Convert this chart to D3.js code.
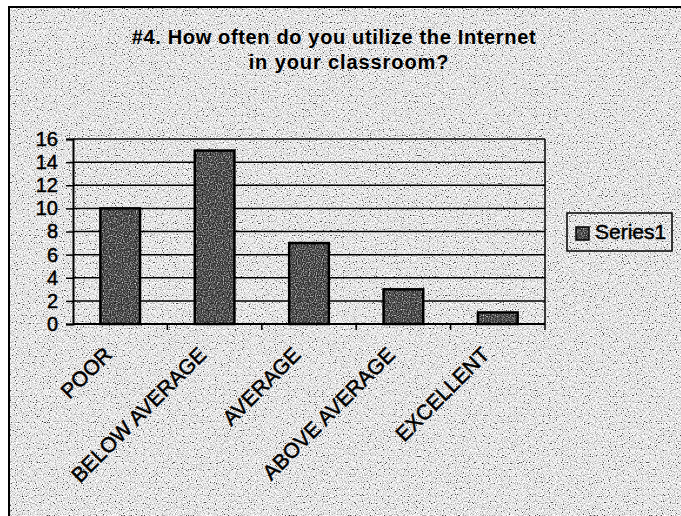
<!DOCTYPE html>
<html lang="en">
<head>
<meta charset="utf-8">
<title>#4. How often do you utilize the Internet in your classroom?</title>
<script src="https://cdn.jsdelivr.net/npm/d3@7"></script>
<style>
  body { margin: 0; background: #fff; }
  text { font-family: "Liberation Sans", Arial, sans-serif; fill: #000; }
  .thick { stroke: #000; stroke-width: 0.5px; }
</style>
</head>
<body>
<script>
// data
var categories = ["POOR", "BELOW AVERAGE", "AVERAGE", "ABOVE AVERAGE", "EXCELLENT"];
var values = [10, 15, 7, 3, 1];
var yTicks = [0, 2, 4, 6, 8, 10, 12, 14, 16];
var titleLines = ["#4. How often do you utilize the Internet", "in your classroom?"];
var seriesName = "Series1";

var w = 681, h = 516;
var plot = { left: 73, right: 545, top: 139, bottom: 324 };

var svg = d3.select("body").append("svg")
  .attr("width", w)
  .attr("height", h);

var defs = svg.append("defs");

// speckled scan texture
function stipple(id, table, seed, clip) {
  var f = defs.append("filter").attr("id", id)
    .attr("x", 0).attr("y", 0).attr("width", 1).attr("height", 1)
    .attr("color-interpolation-filters", "sRGB");
  f.append("feTurbulence").attr("type", "fractalNoise")
    .attr("baseFrequency", 0.85).attr("numOctaves", 1).attr("seed", seed)
    .attr("result", "n");
  f.append("feColorMatrix").attr("in", "n").attr("type", "matrix")
    .attr("values", "1 0 0 0 0  1 0 0 0 0  1 0 0 0 0  0 0 0 0 1")
    .attr("result", "g");
  var ct = f.append("feComponentTransfer").attr("in", "g").attr("result", "t");
  ["feFuncR", "feFuncG", "feFuncB"].forEach(function(fn) {
    ct.append(fn).attr("type", "discrete").attr("tableValues", table);
  });
  if (clip) {
    f.append("feComposite").attr("in", "t").attr("in2", "SourceAlpha").attr("operator", "in");
  }
}
stipple("bgNoise", "0 0.1 0.3 0.7 0.86 0.93 1 1 1 1", 7, false);
stipple("barNoise", "0 0 0.1 0.18 0.25 0.38 0.55 0.7 0.9 1", 3, true);

// page background
svg.append("rect")
  .attr("x", 9).attr("y", 7)
  .attr("width", w - 9).attr("height", h - 7)
  .attr("fill", "#ccc")
  .attr("filter", "url(#bgNoise)");

// chart frame (only left and top edges are inside the scan)
svg.append("path")
  .attr("d", "M9," + h + "V7H" + w)
  .attr("fill", "none")
  .attr("stroke", "#000")
  .attr("stroke-width", 2);

// title
svg.append("text")
  .attr("x", 334).attr("y", 44)
  .attr("text-anchor", "middle")
  .attr("font-size", "20px").attr("font-weight", "bold")
  .attr("letter-spacing", "0.65px")
  .text(titleLines[0]);
svg.append("text")
  .attr("x", 349).attr("y", 69)
  .attr("text-anchor", "middle")
  .attr("font-size", "20px").attr("font-weight", "bold")
  .attr("letter-spacing", "0.9px")
  .text(titleLines[1]);

var xScale = d3.scaleBand()
  .domain(categories)
  .range([plot.left, plot.right])
  .paddingInner(0.58)
  .paddingOuter(0.29);

var xBand = d3.scaleBand()
  .domain(categories)
  .range([plot.left, plot.right]);

var yScale = d3.scaleLinear()
  .domain([0, 16])
  .range([plot.bottom, plot.top]);

// gridlines
svg.append("g").selectAll("line")
  .data(yTicks.slice(1))
  .enter().append("line")
  .attr("x1", plot.left).attr("x2", plot.right)
  .attr("y1", function(d) { return yScale(d); })
  .attr("y2", function(d) { return yScale(d); })
  .attr("stroke", "#000").attr("stroke-width", 1.5);

// right edge of plot area
svg.append("line")
  .attr("x1", plot.right).attr("x2", plot.right)
  .attr("y1", plot.top).attr("y2", plot.bottom)
  .attr("stroke", "#000").attr("stroke-width", 1.5);

// bars
var bars = svg.append("g");
bars.selectAll("rect.fill")
  .data(values)
  .enter().append("rect")
  .attr("class", "fill")
  .attr("x", function(d, i) { return xScale(categories[i]); })
  .attr("y", function(d) { return yScale(d); })
  .attr("width", xScale.bandwidth())
  .attr("height", function(d) { return plot.bottom - yScale(d); })
  .attr("fill", "#000")
  .attr("filter", "url(#barNoise)");
bars.selectAll("rect.edge")
  .data(values)
  .enter().append("rect")
  .attr("class", "edge")
  .attr("x", function(d, i) { return xScale(categories[i]); })
  .attr("y", function(d) { return yScale(d); })
  .attr("width", xScale.bandwidth())
  .attr("height", function(d) { return plot.bottom - yScale(d); })
  .attr("fill", "none")
  .attr("stroke", "#000")
  .attr("stroke-width", 2.5);

// y axis
var yAxis = svg.append("g")
  .attr("transform", "translate(" + plot.left + ",0)")
  .call(d3.axisLeft(yScale).tickValues(yTicks).tickSize(7).tickPadding(8));
yAxis.select(".domain").attr("stroke-width", 2);
yAxis.selectAll(".tick line").attr("stroke-width", 1.5);
yAxis.selectAll(".tick text")
  .attr("class", "thick")
  .attr("font-family", "Liberation Sans, Arial, sans-serif")
  .attr("font-size", "20px")
  .attr("fill", "#000");

// x axis with ticks between categories
var xAxis = svg.append("g")
  .attr("transform", "translate(0," + plot.bottom + ")");
xAxis.append("line")
  .attr("x1", plot.left).attr("x2", plot.right)
  .attr("stroke", "#000").attr("stroke-width", 2);
xAxis.selectAll("line.tk")
  .data(categories.slice(1).concat(["end"]))
  .enter().append("line")
  .attr("class", "tk")
  .attr("x1", function(d, i) { return plot.left + (i + 1) * xBand.bandwidth(); })
  .attr("x2", function(d, i) { return plot.left + (i + 1) * xBand.bandwidth(); })
  .attr("y1", 0).attr("y2", 6)
  .attr("stroke", "#000").attr("stroke-width", 1.5);
xAxis.selectAll("text")
  .data(categories)
  .enter().append("text")
  .attr("class", "thick")
  .attr("text-anchor", "end")
  .attr("font-size", "21px")
  .attr("transform", function(d) {
    var cx = xBand(d) + xBand.bandwidth() / 2;
    return "translate(" + (cx - 7) + ",32) rotate(-45)";
  })
  .text(function(d) { return d; });

// legend
var legend = svg.append("g").attr("transform", "translate(567,213)");
legend.append("rect")
  .attr("width", 105).attr("height", 38)
  .attr("fill", "none")
  .attr("stroke", "#000").attr("stroke-width", 1.5);
legend.append("rect")
  .attr("x", 9).attr("y", 14).attr("width", 13).attr("height", 13)
  .attr("fill", "#000").attr("filter", "url(#barNoise)");
legend.append("rect")
  .attr("x", 9).attr("y", 14).attr("width", 13).attr("height", 13)
  .attr("fill", "none").attr("stroke", "#000").attr("stroke-width", 1.5);
legend.append("text")
  .attr("class", "thick")
  .attr("x", 28).attr("y", 26)
  .attr("font-size", "21px")
  .text(seriesName);
</script>
</body>
</html>
